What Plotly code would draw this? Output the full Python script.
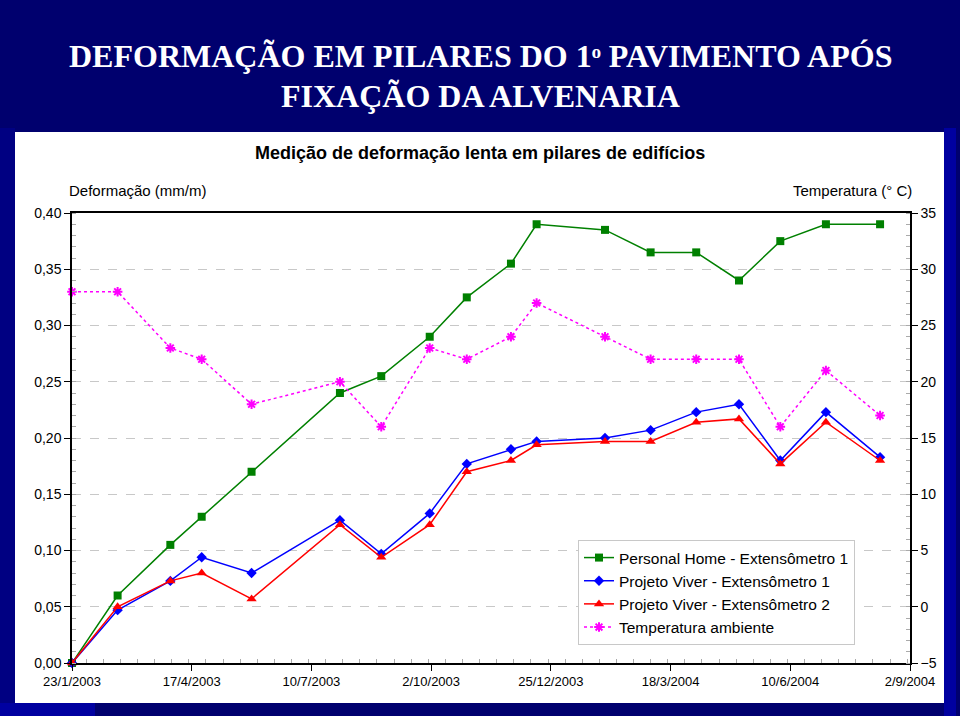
import plotly.graph_objects as go

# ---------------- data ----------------
dates = ["2003-01-23", "2003-02-24", "2003-04-02", "2003-04-24", "2003-05-29",
         "2003-07-30", "2003-08-28", "2003-10-01", "2003-10-27", "2003-11-27",
         "2003-12-15", "2004-02-01", "2004-03-04", "2004-04-05", "2004-05-05",
         "2004-06-03", "2004-07-05", "2004-08-12"]
personal_home_ext1 = [0.00, 0.060, 0.105, 0.130, 0.170, 0.240, 0.255, 0.290, 0.325, 0.355,
                      0.390, 0.385, 0.365, 0.365, 0.340, 0.375, 0.390, 0.390]
viver_ext1 = [0.00, 0.047, 0.073, 0.094, 0.080, 0.127, 0.097, 0.133, 0.177, 0.190,
              0.197, 0.200, 0.207, 0.223, 0.230, 0.180, 0.223, 0.183]
viver_ext2 = [0.00, 0.050, 0.073, 0.080, 0.057, 0.123, 0.094, 0.123, 0.170, 0.180,
              0.194, 0.197, 0.197, 0.214, 0.217, 0.177, 0.214, 0.180]
temperatura = [28, 28, 23, 22, 18, 20, 16, 23, 22, 24, 27, 24, 22, 22, 22, 16, 21, 17]

series_names = ["Personal Home - Extensômetro 1", "Projeto Viver - Extensômetro 1",
                "Projeto Viver - Extensômetro 2", "Temperatura ambiente"]
left_ticks = [0.00, 0.05, 0.10, 0.15, 0.20, 0.25, 0.30, 0.35, 0.40]
right_ticks = [-5, 0, 5, 10, 15, 20, 25, 30, 35]

# ---------------- layout geometry (pixels) ----------------
W, H = 960, 716
L, R, T, B = 72, 50, 213, 53
PW, PH = W - L - R, H - T - B


def px(x):
    return (x - L) / PW


def py(y):
    return (H - B - y) / PH


fig = go.Figure()

fig.add_trace(go.Scatter(
    x=dates, y=personal_home_ext1, name=series_names[0], mode="lines+markers",
    line=dict(color="#008000", width=1.5),
    marker=dict(symbol="square", size=8, color="#008000"),
    cliponaxis=False))
fig.add_trace(go.Scatter(
    x=dates, y=viver_ext1, name=series_names[1], mode="lines+markers",
    line=dict(color="#0000FF", width=1.5),
    marker=dict(symbol="diamond", size=8, color="#0000FF"),
    cliponaxis=False))
fig.add_trace(go.Scatter(
    x=dates, y=viver_ext2, name=series_names[2], mode="lines+markers",
    line=dict(color="#FF0000", width=1.5),
    marker=dict(symbol="triangle-up", size=9, color="#FF0000"),
    cliponaxis=False))
fig.add_trace(go.Scatter(
    x=dates, y=temperatura, name=series_names[3], mode="lines+markers", yaxis="y2",
    line=dict(color="#FF00FF", width=1.5, dash="dot"),
    marker=dict(symbol="asterisk-open", size=8, color="#FF00FF",
                line=dict(color="#FF00FF", width=2)),
    cliponaxis=False))

DAY = 86400000
SANS = "Liberation Sans, Arial, sans-serif"
axis_font = dict(family=SANS, size=14, color="#000000")

fig.update_layout(
    width=W, height=H,
    margin=dict(l=L, r=R, t=T, b=B, pad=0),
    paper_bgcolor="#00006E",
    plot_bgcolor="#FFFFFF",
    separators=",.",
    showlegend=True,
    font=dict(family=SANS, color="#000000"),
    xaxis=dict(
        type="date", range=["2003-01-23", "2004-09-02"],
        tick0="2003-01-23", dtick=84 * DAY, tickformat="%-d/%-m/%Y",
        showgrid=False, zeroline=False,
        showline=True, linecolor="#000000", linewidth=1.5, mirror=True,
        ticks="outside", ticklen=6, tickcolor="#000000",
        minor=dict(dtick=12 * DAY, ticks="inside", ticklen=4, tickcolor="#AAAAAA"),
        tickfont=dict(family=SANS, size=13, color="#000000"),
    ),
    yaxis=dict(
        range=[0, 0.40], tickvals=left_ticks, tickformat=".2f",
        showgrid=True, gridcolor="#C8C8C8", griddash="dash", gridwidth=1,
        zeroline=False, showline=True, linecolor="#000000", linewidth=1.5,
        ticks="outside", ticklen=6, tickcolor="#000000",
        minor=dict(dtick=0.01, ticks="inside", ticklen=4, tickcolor="#AAAAAA"),
        tickfont=axis_font,
    ),
    yaxis2=dict(
        range=[-5, 35], tickvals=right_ticks, overlaying="y", side="right",
        showgrid=False, zeroline=False, showline=True, linecolor="#000000", linewidth=1.5,
        ticks="outside", ticklen=6, tickcolor="#000000",
        minor=dict(dtick=1, ticks="inside", ticklen=4, tickcolor="#AAAAAA"),
        tickfont=axis_font,
    ),
    legend=dict(
        x=px(578), y=py(540), xanchor="left", yanchor="top",
        bgcolor="#FFFFFF", bordercolor="#C8C8C8", borderwidth=1,
        font=dict(family=SANS, size=15.5, color="#000000"),
        itemwidth=30, tracegroupgap=0,
    ),
)

# ---------------- background panels ----------------
shapes = [
    dict(type="rect", xref="paper", yref="paper", x0=px(944), x1=px(956), y0=py(716), y1=py(128),
         fillcolor="#0000A0", line=dict(width=0), layer="below"),
    dict(type="rect", xref="paper", yref="paper", x0=px(0), x1=px(15), y0=py(716), y1=py(128),
         fillcolor="#000082", line=dict(width=0), layer="below"),
    dict(type="rect", xref="paper", yref="paper", x0=px(0), x1=px(95), y0=py(716), y1=py(703),
         fillcolor="#0000A0", line=dict(width=0), layer="below"),
    dict(type="rect", xref="paper", yref="paper", x0=px(15), x1=px(944), y0=py(703), y1=py(132),
         fillcolor="#FFFFFF", line=dict(width=0), layer="below"),
]
fig.update_layout(shapes=shapes)

# ---------------- texts ----------------
title_font = dict(family="Liberation Serif, Times New Roman, serif", size=32, color="#FFFFFF")
annotations = [
    dict(text="<b>DEFORMAÇÃO EM PILARES DO 1ᵒ PAVIMENTO APÓS</b>",
         x=px(480), y=py(56), xanchor="center", yanchor="middle", font=title_font),
    dict(text="<b>FIXAÇÃO DA ALVENARIA</b>",
         x=px(480), y=py(96), xanchor="center", yanchor="middle", font=title_font),
    dict(text="<b>Medição de deformação lenta em pilares de edifícios</b>",
         x=px(480), y=py(153), xanchor="center", yanchor="middle",
         font=dict(family=SANS, size=18, color="#000000")),
    dict(text="Deformação (mm/m)", x=px(67), y=py(191), xanchor="left", yanchor="middle",
         font=dict(family=SANS, size=15, color="#000000")),
    dict(text="Temperatura (° C)", x=px(914), y=py(191), xanchor="right", yanchor="middle",
         font=dict(family=SANS, size=15, color="#000000")),
]
for a in annotations:
    a.update(xref="paper", yref="paper", showarrow=False)
fig.update_layout(annotations=annotations)

fig.write_html("out.html")
